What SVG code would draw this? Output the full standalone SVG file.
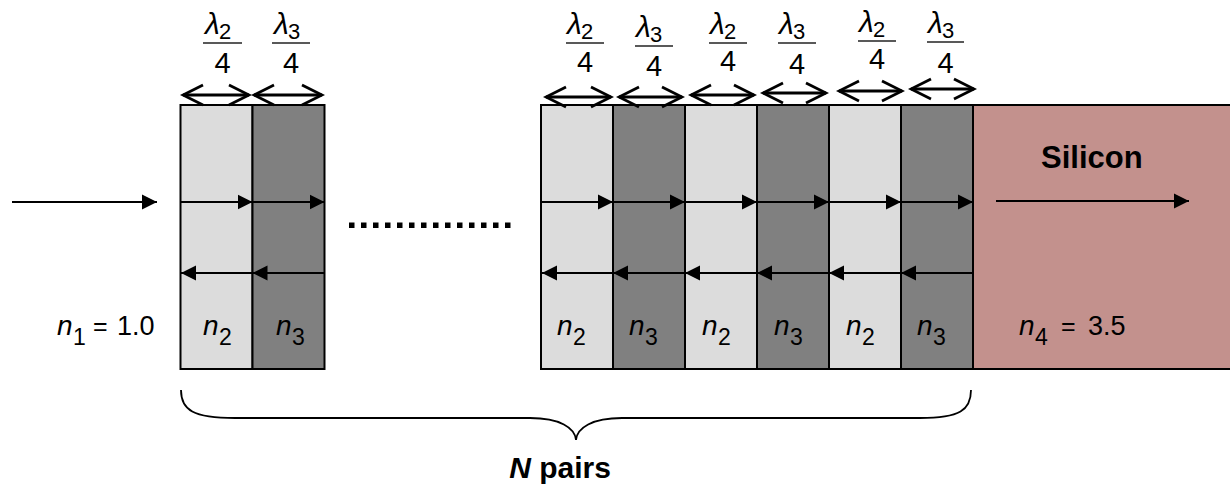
<svg xmlns="http://www.w3.org/2000/svg" width="1230" height="487" viewBox="0 0 1230 487">
<style>
  text { font-family: "Liberation Sans", Arial, sans-serif; fill: #000; }
  .lam { font-size: 30px; font-style: italic; }
  .sub { font-size: 22px; }
  .four { font-size: 29px; text-anchor: middle; }
  .frl { stroke: #222; stroke-width: 1.6; }
  .dbl { stroke: #000; stroke-width: 2.8; fill: none; }
  .arr { stroke: #000; stroke-width: 2; fill: none; marker-end: url(#tri); }
  .light { fill: #DCDCDC; stroke: #000; stroke-width: 2; }
  .dark { fill: #808080; stroke: #000; stroke-width: 2; }
  .n { font-size: 28px; font-style: italic; }
  .ns { font-size: 23px; }
  .num { font-size: 27px; }
  .eq { font-size: 25px; }
</style>
<defs>
  <marker id="tri" markerUnits="userSpaceOnUse" markerWidth="16" markerHeight="16" viewBox="0 0 16 16" refX="15" refY="8" orient="auto">
    <path d="M0,0.5 L15,8 L0,15.5 Z" fill="#000"/>
  </marker>
  <marker id="open" markerUnits="userSpaceOnUse" markerWidth="24" markerHeight="24" viewBox="0 0 24 24" refX="21" refY="12" orient="auto-start-reverse">
    <path d="M1,2 L21,12 L1,22" fill="none" stroke="#000" stroke-width="2.8"/>
  </marker>
</defs>

<rect x="0" y="0" width="1230" height="487" fill="#fff"/>

<!-- silicon substrate -->
<g id="silicon">
  <rect x="973" y="105" width="262" height="264" fill="#C3918D" stroke="#000" stroke-width="2"/>
  <text x="1041" y="168" style="font-size:31px;font-weight:bold">Silicon</text>
  <text x="1019" y="335" class="n">n</text><text x="1035" y="345" class="ns">4</text>
  <text x="1061" y="335" class="eq">=</text>
  <text x="1088" y="335" class="num">3.5</text>
</g>

<!-- left pair -->
<g id="layer-left-n2">
  <rect x="180.5" y="105" width="72" height="264" class="light"/>
  <text x="203" y="335" class="n">n</text><text x="219" y="345" class="ns">2</text>
</g>
<g id="layer-left-n3">
  <rect x="252.5" y="105" width="72" height="264" class="dark"/>
  <text x="276" y="335" class="n">n</text><text x="292" y="345" class="ns">3</text>
</g>

<!-- right stack -->
<g id="layer-r1-n2">
  <rect x="541" y="105" width="72" height="264" class="light"/>
  <text x="557" y="335" class="n">n</text><text x="573" y="345" class="ns">2</text>
</g>
<g id="layer-r1-n3">
  <rect x="613" y="105" width="72" height="264" class="dark"/>
  <text x="629" y="335" class="n">n</text><text x="645" y="345" class="ns">3</text>
</g>
<g id="layer-r2-n2">
  <rect x="685" y="105" width="72" height="264" class="light"/>
  <text x="702" y="335" class="n">n</text><text x="718" y="345" class="ns">2</text>
</g>
<g id="layer-r2-n3">
  <rect x="757" y="105" width="72" height="264" class="dark"/>
  <text x="774" y="335" class="n">n</text><text x="790" y="345" class="ns">3</text>
</g>
<g id="layer-r3-n2">
  <rect x="829" y="105" width="72" height="264" class="light"/>
  <text x="846" y="335" class="n">n</text><text x="862" y="345" class="ns">2</text>
</g>
<g id="layer-r3-n3">
  <rect x="901" y="105" width="72" height="264" class="dark"/>
  <text x="917" y="335" class="n">n</text><text x="933" y="345" class="ns">3</text>
</g>

<!-- air index -->
<g id="air">
  <text x="57" y="335" class="n">n</text><text x="73" y="345" class="ns">1</text>
  <text x="93" y="335" class="eq">=</text>
  <text x="117" y="335" class="num">1.0</text>
</g>

<!-- dotted ellipsis -->
<g id="ellipsis" fill="#000">
  <rect x="349" y="222.5" width="5.5" height="5.5"/>
  <rect x="361" y="222.5" width="5.5" height="5.5"/>
  <rect x="373" y="222.5" width="5.5" height="5.5"/>
  <rect x="385" y="222.5" width="5.5" height="5.5"/>
  <rect x="397" y="222.5" width="5.5" height="5.5"/>
  <rect x="409" y="222.5" width="5.5" height="5.5"/>
  <rect x="421" y="222.5" width="5.5" height="5.5"/>
  <rect x="433" y="222.5" width="5.5" height="5.5"/>
  <rect x="445" y="222.5" width="5.5" height="5.5"/>
  <rect x="457" y="222.5" width="5.5" height="5.5"/>
  <rect x="469" y="222.5" width="5.5" height="5.5"/>
  <rect x="481" y="222.5" width="5.5" height="5.5"/>
  <rect x="493" y="222.5" width="5.5" height="5.5"/>
  <rect x="505" y="222.5" width="5.5" height="5.5"/>
</g>

<!-- thickness labels -->
<g id="thickness-labels">
  <g><text x="205" y="34" class="lam">λ</text><text x="219" y="39" class="sub">2</text><line x1="203" y1="43" x2="242" y2="43" class="frl"/><text x="222.5" y="73" class="four">4</text></g>
  <g><text x="274" y="34" class="lam">λ</text><text x="288" y="39" class="sub">3</text><line x1="272" y1="43" x2="310" y2="43" class="frl"/><text x="291" y="73" class="four">4</text></g>
  <g><text x="567" y="34" class="lam">λ</text><text x="581" y="39" class="sub">2</text><line x1="566" y1="43" x2="604" y2="43" class="frl"/><text x="585" y="72" class="four">4</text></g>
  <g><text x="636" y="37" class="lam">λ</text><text x="650" y="42" class="sub">3</text><line x1="635" y1="46" x2="673" y2="46" class="frl"/><text x="654" y="76" class="four">4</text></g>
  <g><text x="710" y="34" class="lam">λ</text><text x="724" y="39" class="sub">2</text><line x1="709" y1="43" x2="747" y2="43" class="frl"/><text x="728" y="71" class="four">4</text></g>
  <g><text x="779" y="34" class="lam">λ</text><text x="793" y="39" class="sub">3</text><line x1="778" y1="43" x2="816" y2="43" class="frl"/><text x="797" y="74" class="four">4</text></g>
  <g><text x="859" y="32" class="lam">λ</text><text x="873" y="37" class="sub">2</text><line x1="858" y1="41" x2="896" y2="41" class="frl"/><text x="877" y="69" class="four">4</text></g>
  <g><text x="928" y="33" class="lam">λ</text><text x="942" y="38" class="sub">3</text><line x1="927" y1="42" x2="964" y2="42" class="frl"/><text x="945.5" y="73" class="four">4</text></g>
</g>

<!-- connectors -->
<g id="connectors">
  <!-- thickness double arrows -->
  <line x1="183" y1="95" x2="249" y2="95" class="dbl" marker-start="url(#open)" marker-end="url(#open)"/>
  <line x1="254" y1="95" x2="322" y2="95" class="dbl" marker-start="url(#open)" marker-end="url(#open)"/>
  <line x1="546" y1="97" x2="611" y2="97" class="dbl" marker-start="url(#open)" marker-end="url(#open)"/>
  <line x1="619" y1="97" x2="682" y2="97" class="dbl" marker-start="url(#open)" marker-end="url(#open)"/>
  <line x1="691" y1="95" x2="754" y2="95" class="dbl" marker-start="url(#open)" marker-end="url(#open)"/>
  <line x1="763" y1="93" x2="826" y2="93" class="dbl" marker-start="url(#open)" marker-end="url(#open)"/>
  <line x1="839" y1="91" x2="902" y2="91" class="dbl" marker-start="url(#open)" marker-end="url(#open)"/>
  <line x1="911" y1="89" x2="974" y2="89" class="dbl" marker-start="url(#open)" marker-end="url(#open)"/>

  <!-- incident and transmitted -->
  <line x1="12" y1="202" x2="157" y2="202" class="arr"/>
  <line x1="996" y1="201" x2="1189" y2="201" class="arr"/>

  <!-- forward waves -->
  <line x1="181" y1="202" x2="252.5" y2="202" class="arr"/>
  <line x1="252.5" y1="202" x2="324.5" y2="202" class="arr"/>
  <line x1="541" y1="202" x2="613" y2="202" class="arr"/>
  <line x1="613" y1="202" x2="685" y2="202" class="arr"/>
  <line x1="685" y1="202" x2="757" y2="202" class="arr"/>
  <line x1="757" y1="202" x2="829" y2="202" class="arr"/>
  <line x1="829" y1="202" x2="901" y2="202" class="arr"/>
  <line x1="901" y1="202" x2="973" y2="202" class="arr"/>

  <!-- backward waves -->
  <line x1="252.5" y1="273" x2="181" y2="273" class="arr"/>
  <line x1="324.5" y1="273" x2="252.5" y2="273" class="arr"/>
  <line x1="613" y1="273" x2="542" y2="273" class="arr"/>
  <line x1="685" y1="273" x2="613" y2="273" class="arr"/>
  <line x1="757" y1="273" x2="685" y2="273" class="arr"/>
  <line x1="829" y1="273" x2="757" y2="273" class="arr"/>
  <line x1="901" y1="273" x2="829" y2="273" class="arr"/>
  <line x1="973" y1="273" x2="901" y2="273" class="arr"/>
</g>

<!-- brace -->
<g id="brace">
  <path d="M181,390 C181,410 193,418 235,418 L530,418 C560,418 575,428 576,440 C577,428 592,418 622,418 L920,418 C960,418 971,410 971,390" fill="none" stroke="#000" stroke-width="1.8"/>
  <text x="560" y="478" style="font-size:30px;font-weight:bold;text-anchor:middle"><tspan font-style="italic">N</tspan> pairs</text>
</g>
</svg>
